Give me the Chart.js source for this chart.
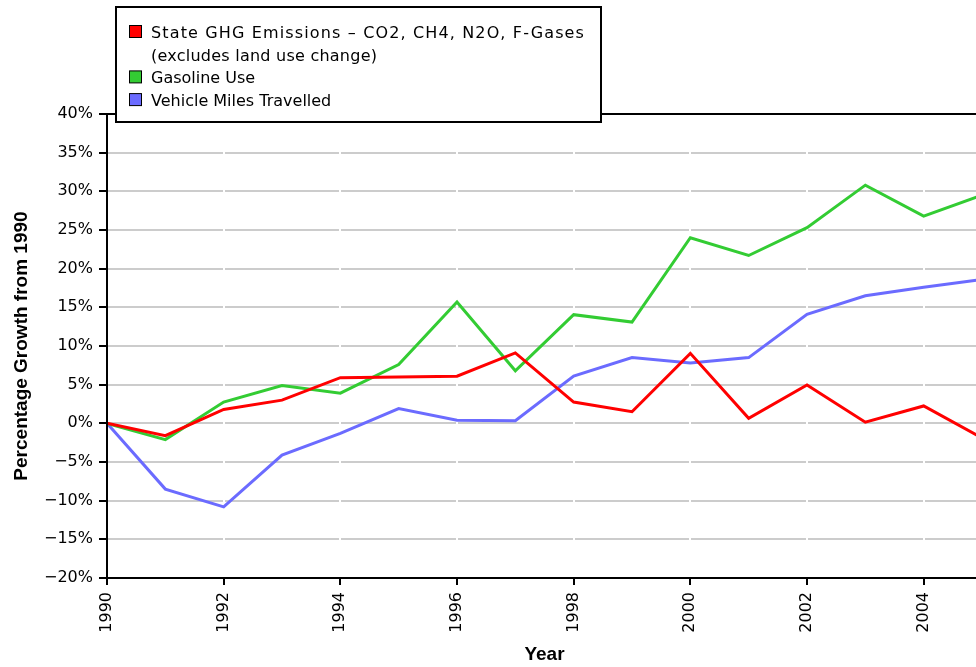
<!DOCTYPE html>
<html><head><meta charset="utf-8">
<script src="https://cdn.jsdelivr.net/npm/chart.js@4/dist/chart.umd.min.js"></script>
<style>
html,body{margin:0;padding:0;overflow:hidden;background:#fff;width:976px;height:667px;}
#wrap{position:absolute;left:0;top:0;width:992px;height:667px;}
</style></head><body>
<div id="wrap"><canvas id="c" width="992" height="667"></canvas></div>
<script>
// ---- data ----
const years = [1990,1991,1992,1993,1994,1995,1996,1997,1998,1999,2000,2001,2002,2003,2004,2005];
const ghgEmissions = [0,-1.6,1.8,3.0,5.9,6.0,6.1,9.1,2.75,1.5,9.05,0.65,4.95,0.15,2.25,-1.9];
const gasolineUse = [0,-2.1,2.75,4.9,3.9,7.6,15.7,6.8,14.05,13.1,24.0,21.7,25.3,30.8,26.8,29.5];
const vehicleMiles = [0,-8.5,-10.8,-4.1,-1.3,1.9,0.4,0.35,6.1,8.5,7.8,8.5,14.1,16.5,17.6,18.6];
const seriesLabels = [
  ['State GHG Emissions \u2013 CO2, CH4, N2O, F-Gases', '(excludes land use change)'],
  ['Gasoline Use'],
  ['Vehicle Miles Travelled']
];
const seriesColors = ['#ff0000', '#33cc33', '#6b6bff'];
const yAxisTitle = 'Percentage Growth from 1990';
const xAxisTitle = 'Year';
const yMin = -20, yMax = 40, yStep = 5;
const xStep = 2;

const seriesValues = [ghgEmissions, gasolineUse, vehicleMiles];
const tickFont = {family: 'DejaVu Sans', size: 16};
const titleFont = {family: 'Liberation Sans', size: 19, weight: 'bold', lineHeight: 1.2};

// target widths of legend lines (px), to mimic the reference's wider spacing
const legendLineWidths = {0: 433, 1: 226};

const frameLegend = {
  id: 'frameLegend',
  afterDatasetsDraw(chart) {
    const {ctx, chartArea: a} = chart;
    ctx.save();
    ctx.strokeStyle = '#000';
    ctx.lineWidth = 2;
    ctx.beginPath();
    ctx.moveTo(a.left, a.top);
    ctx.lineTo(a.right, a.top);
    ctx.stroke();
    ctx.restore();
  },
  afterDraw(chart) {
    const ctx = chart.ctx;
    ctx.save();
    ctx.fillStyle = '#fff';
    ctx.fillRect(116, 7, 485, 115);
    ctx.strokeStyle = '#000';
    ctx.lineWidth = 2;
    ctx.strokeRect(116, 7, 485, 115);
    ctx.font = '16px "DejaVu Sans"';
    ctx.textBaseline = 'alphabetic';
    ctx.textAlign = 'left';
    let baseline = 38;
    const lineStep = 22.7;
    let lineIdx = 0;
    seriesLabels.forEach((lines, i) => {
      ctx.fillStyle = seriesColors[i];
      ctx.fillRect(129.5, baseline - 12.5, 12, 12);
      ctx.strokeStyle = '#000';
      ctx.lineWidth = 1;
      ctx.strokeRect(129.5, baseline - 12.5, 12, 12);
      ctx.fillStyle = '#000';
      lines.forEach(t => {
        ctx.letterSpacing = '0px';
        const target = legendLineWidths[lineIdx];
        if (target) {
          const w = ctx.measureText(t).width;
          const sp = Math.max(0, (target - w) / Math.max(1, t.length - 1));
          ctx.letterSpacing = sp.toFixed(2) + 'px';
        }
        ctx.fillText(t, 151, baseline);
        ctx.letterSpacing = '0px';
        baseline += lineStep;
        lineIdx++;
      });
    });
    ctx.restore();
  }
};

new Chart(document.getElementById('c'), {
  type: 'line',
  data: {
    datasets: seriesValues.map((vals, i) => ({
      label: seriesLabels[i].join(' '),
      data: years.map((x, j) => ({x: x, y: vals[j]})),
      borderColor: seriesColors[i],
      backgroundColor: seriesColors[i],
      borderWidth: 3,
      pointRadius: 0,
      tension: 0,
      fill: false
    }))
  },
  options: {
    responsive: false,
    animation: false,
    devicePixelRatio: 1,
    layout: {padding: {left: 0, right: 10, top: 114, bottom: 0}},
    plugins: {legend: {display: false}, tooltip: {enabled: false}},
    scales: {
      x: {
        type: 'linear',
        min: years[0],
        max: years[years.length - 1],
        afterFit(s) { s.height = 89; },
        ticks: {
          stepSize: xStep, includeBounds: false, autoSkip: false,
          minRotation: 90, maxRotation: 90, padding: 7,
          color: '#000', font: tickFont,
          callback: v => String(v)
        },
        grid: {
          color: c => (c.tick && c.tick.value === years[0]) ? 'rgba(0,0,0,0)' : '#ffffff',
          lineWidth: 2, z: 0, drawTicks: true, tickLength: 7, tickColor: '#000', tickWidth: 2
        },
        border: {display: true, color: '#000', width: 2, z: 1},
        title: {display: true, text: xAxisTitle, color: '#000', font: titleFont, padding: {top: 0, bottom: 1}}
      },
      y: {
        min: yMin, max: yMax,
        afterFit(s) { s.width = 107; },
        ticks: {
          stepSize: yStep, padding: 6, color: '#000', font: tickFont,
          callback: v => (v < 0 ? '\u2212' + Math.abs(v) : String(v)) + '%'
        },
        grid: {color: '#cccccc', lineWidth: 2, tickColor: '#000', tickLength: 8, tickWidth: 2},
        border: {display: true, color: '#000', width: 2, z: 1},
        title: {display: true, text: yAxisTitle, color: '#000', font: titleFont, padding: {top: 10, bottom: 0}}
      }
    }
  },
  plugins: [frameLegend]
});
</script>
</body></html>
